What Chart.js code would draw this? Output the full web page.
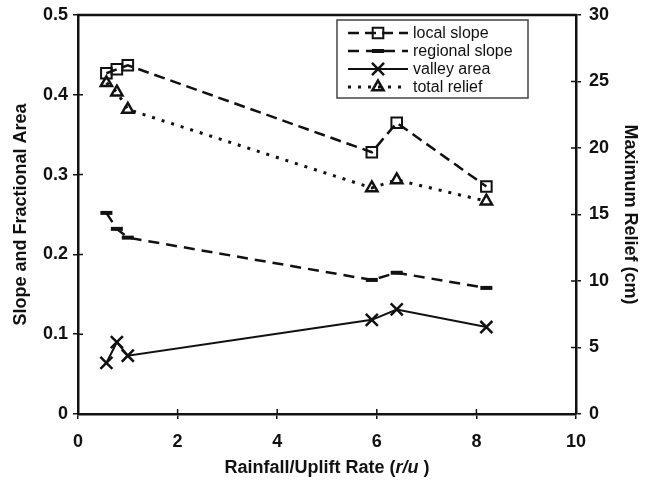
<!DOCTYPE html>
<html>
<head>
<meta charset="utf-8">
<script src="https://cdn.jsdelivr.net/npm/chart.js@4/dist/chart.umd.min.js"></script>
<style>
  html, body { margin: 0; padding: 0; background: #fff; }
  #wrap { width: 648px; height: 480px; }
</style>
</head>
<body>
<div id="wrap"><canvas id="myChart" width="648" height="480"></canvas></div>
<script>
// datos
const rates = [0.57, 0.78, 1.0, 5.9, 6.4, 8.2];
const localSlope = [0.427, 0.432, 0.437, 0.328, 0.365, 0.285];
const regionalSlope = [0.252, 0.232, 0.221, 0.168, 0.177, 0.158];
const valleyArea = [0.064, 0.090, 0.073, 0.118, 0.131, 0.109];
const totalRelief = [24.9, 24.2, 22.9, 17.0, 17.6, 16.0];

const xTicks = [0, 2, 4, 6, 8, 10];
const leftTicks = [0, 0.1, 0.2, 0.3, 0.4, 0.5];
const rightTicks = [0, 5, 10, 15, 20, 25, 30];

const FONT = "'Liberation Sans', Arial, sans-serif";
const INK = '#111';

function pts(ys) {
    return rates.map((x, i) => ({ x: x, y: ys[i] }));
}

// dibuja marcadores de la leyenda igual que en el gráfico
function marker(ctx, ds, x, y) {
    ctx.save();
    ctx.strokeStyle = ds.pointBorderColor;
    ctx.fillStyle = ds.pointBackgroundColor;
    ctx.lineWidth = ds.pointBorderWidth;
    ctx.setLineDash([]);
    Chart.helpers.drawPoint(ctx, {
        pointStyle: ds.pointStyle,
        radius: ds.pointRadius,
        rotation: 0,
        borderWidth: ds.pointBorderWidth
    }, x, y);
    ctx.restore();
}

const boxLegend = {
    id: 'boxLegend',
    afterDatasetsDraw(chart) {
        const ctx = chart.ctx;
        const left = 337, top = 20, w = 191, h = 78;
        ctx.save();
        ctx.fillStyle = '#fff';
        ctx.fillRect(left, top, w, h);
        ctx.strokeStyle = '#444';
        ctx.lineWidth = 1.5;
        ctx.strokeRect(left, top, w, h);
        ctx.font = '16px ' + FONT;
        ctx.textBaseline = 'middle';
        chart.data.datasets.forEach((ds, i) => {
            const y = top + 13 + i * 18;
            ctx.strokeStyle = ds.borderColor;
            ctx.lineWidth = ds.borderWidth;
            ctx.setLineDash(ds.borderDash || []);
            ctx.beginPath();
            ctx.moveTo(348, y);
            ctx.lineTo(408, y);
            ctx.stroke();
            marker(ctx, ds, 378, y);
            ctx.fillStyle = INK;
            ctx.fillText(ds.label, 413, y + 1);
        });
        ctx.restore();
    }
};

// marco superior, ticks interiores y título del eje x con cursiva
const frame = {
    id: 'frame',
    afterDraw(chart) {
        const ctx = chart.ctx;
        const a = chart.chartArea;
        const s = chart.scales;
        ctx.save();
        ctx.strokeStyle = INK;
        ctx.lineWidth = 2.5;
        ctx.beginPath();
        ctx.moveTo(a.left - 1, a.top);
        ctx.lineTo(a.right + 1, a.top);
        ctx.stroke();

        ctx.lineWidth = 1.5;
        ctx.beginPath();
        s.x.ticks.forEach(t => {
            const px = s.x.getPixelForValue(t.value);
            ctx.moveTo(px, a.bottom);
            ctx.lineTo(px, a.bottom - 5);
        });
        s.y.ticks.forEach(t => {
            const py = s.y.getPixelForValue(t.value);
            ctx.moveTo(a.left, py);
            ctx.lineTo(a.left + 5, py);
        });
        s.y1.ticks.forEach(t => {
            const py = s.y1.getPixelForValue(t.value);
            ctx.moveTo(a.right, py);
            ctx.lineTo(a.right - 5, py);
        });
        ctx.stroke();

        const parts = [
            ['bold 18px ' + FONT, 'Rainfall/Uplift Rate ('],
            ['italic bold 18px ' + FONT, 'r/u'],
            ['bold 18px ' + FONT, ' )']
        ];
        let total = 0;
        parts.forEach(p => { ctx.font = p[0]; total += ctx.measureText(p[1]).width; });
        let x = (a.left + a.right) / 2 - total / 2;
        ctx.fillStyle = INK;
        ctx.textBaseline = 'middle';
        ctx.textAlign = 'left';
        parts.forEach(p => {
            ctx.font = p[0];
            ctx.fillText(p[1], x, 468);
            x += ctx.measureText(p[1]).width;
        });
        ctx.restore();
    }
};

const datasets = [
    {
        label: 'local slope',
        data: pts(localSlope),
        yAxisID: 'y',
        borderColor: INK,
        borderWidth: 2.5,
        borderDash: [11, 6],
        pointStyle: 'rect',
        pointRadius: 7.5,
        pointBorderWidth: 2,
        pointBorderColor: INK,
        pointBackgroundColor: 'rgba(255,255,255,0)'
    },
    {
        label: 'regional slope',
        data: pts(regionalSlope),
        yAxisID: 'y',
        borderColor: INK,
        borderWidth: 2.5,
        borderDash: [11, 7],
        pointStyle: 'line',
        pointRadius: 6,
        pointBorderWidth: 4,
        pointBorderColor: INK,
        pointBackgroundColor: INK
    },
    {
        label: 'valley area',
        data: pts(valleyArea),
        yAxisID: 'y',
        borderColor: INK,
        borderWidth: 2,
        borderDash: [],
        pointStyle: 'crossRot',
        pointRadius: 8.5,
        pointBorderWidth: 2.5,
        pointBorderColor: INK,
        pointBackgroundColor: INK
    },
    {
        label: 'total relief',
        data: pts(totalRelief),
        yAxisID: 'y1',
        borderColor: INK,
        borderWidth: 3,
        borderDash: [3, 7],
        pointStyle: 'triangle',
        pointRadius: 6.5,
        pointBorderWidth: 2.5,
        pointBorderColor: INK,
        pointBackgroundColor: 'rgba(255,255,255,0)'
    }
];

function axisTicks(pad) {
    return {
        color: INK,
        padding: pad,
        font: { family: FONT, size: 18, weight: 'bold' },
        autoSkip: false
    };
}

// anchura fija de los ejes verticales, sin relleno extra arriba
function fixWidth(w) {
    return s => {
        s.width = w;
        s.paddingTop = 0;
        s.paddingBottom = 0;
    };
}

const config = {
    type: 'line',
    data: { datasets: datasets },
    options: {
        responsive: false,
        animation: false,
        layout: { padding: { top: 15, left: 0, right: 0, bottom: 0 } },
        plugins: {
            legend: { display: false },
            tooltip: { enabled: false }
        },
        scales: {
            x: {
                type: 'linear',
                min: 0,
                max: 10,
                afterBuildTicks: s => { s.ticks = xTicks.map(v => ({ value: v })); },
                ticks: axisTicks(12),
                grid: { drawOnChartArea: false, color: INK, tickLength: 5, lineWidth: 1.5 },
                border: { color: INK, width: 2.5 },
                title: { display: false },
                afterFit: s => { s.height = 66; }
            },
            y: {
                position: 'left',
                min: 0,
                max: 0.5,
                afterBuildTicks: s => { s.ticks = leftTicks.map(v => ({ value: v })); },
                ticks: axisTicks(5),
                grid: { drawOnChartArea: false, color: INK, tickLength: 5, lineWidth: 1.5 },
                border: { color: INK, width: 2.5 },
                title: {
                    display: true,
                    text: 'Slope and Fractional Area',
                    color: INK,
                    font: { family: FONT, size: 18, weight: 'bold' },
                    padding: { top: 10, bottom: 0 }
                },
                afterFit: fixWidth(78)
            },
            y1: {
                position: 'right',
                min: 0,
                max: 30,
                afterBuildTicks: s => { s.ticks = rightTicks.map(v => ({ value: v })); },
                ticks: axisTicks(8),
                grid: { drawOnChartArea: false, color: INK, tickLength: 5, lineWidth: 1.5 },
                border: { color: INK, width: 2.5 },
                title: {
                    display: true,
                    text: 'Maximum Relief (cm)',
                    color: INK,
                    font: { family: FONT, size: 18, weight: 'bold' },
                    padding: { top: 7, bottom: 0 }
                },
                afterFit: fixWidth(72)
            }
        }
    },
    plugins: [boxLegend, frame]
};

new Chart(document.getElementById('myChart'), config);
</script>
</body>
</html>
